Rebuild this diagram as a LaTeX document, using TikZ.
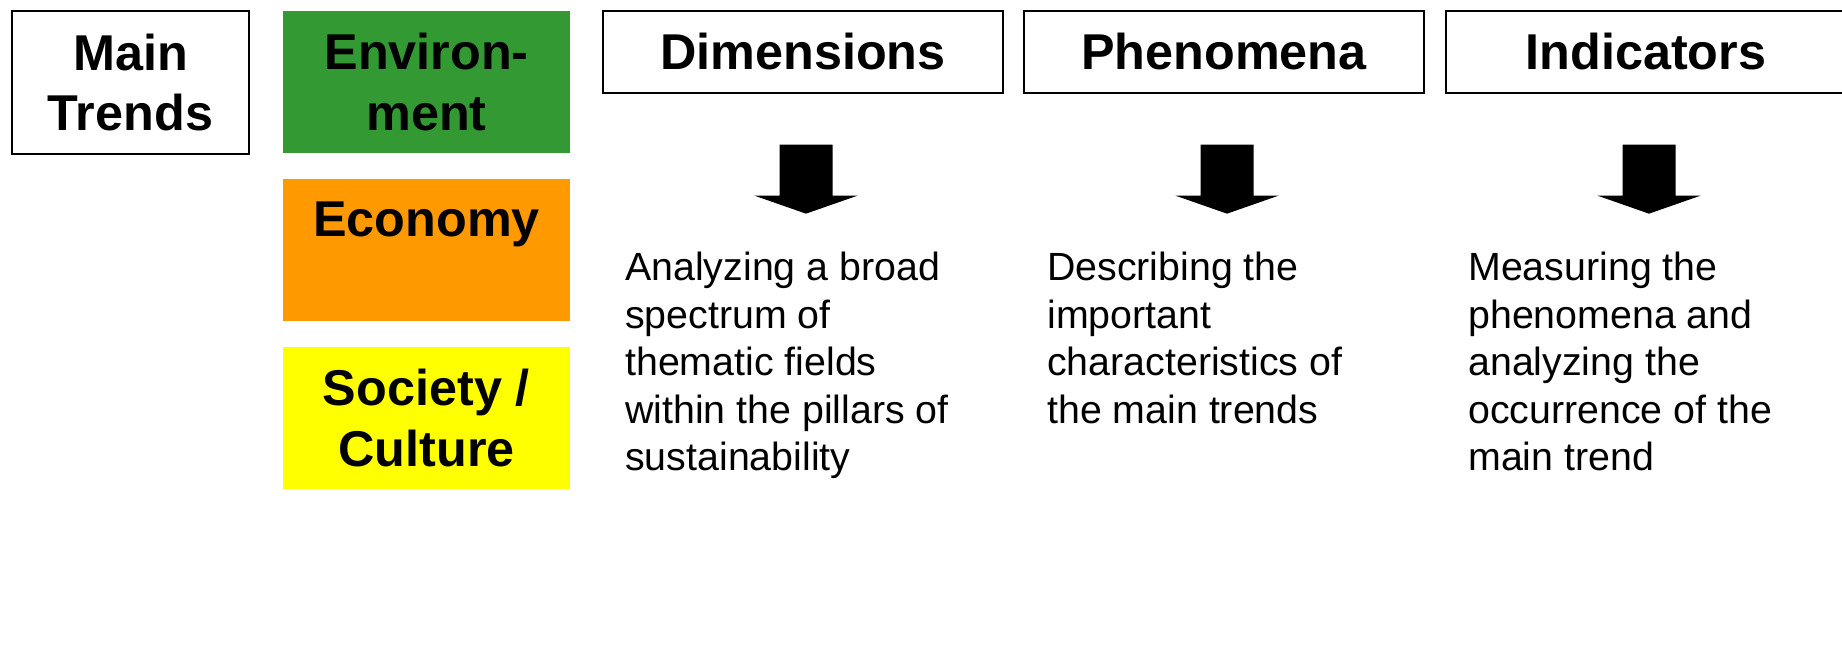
\documentclass[tikz,border=0pt]{standalone}
\usepackage{fontspec}
\setmainfont{Liberation Sans}
\definecolor{envgreen}{RGB}{51,153,51}
\definecolor{ecoorange}{RGB}{255,153,0}
\definecolor{socyellow}{RGB}{255,255,0}

\begin{document}
\begin{tikzpicture}[x=0.75pt,y=-0.75pt,
                    font=\fontsize{37.75}{45.4}\selectfont\bfseries]
  \tikzstyle{pillar}=[rectangle,minimum width=215.25pt,minimum height=106.5pt,inner sep=0pt,align=center]
  \tikzstyle{head}=[rectangle,draw=black,line width=1pt,fill=white,minimum width=300pt,minimum height=61.5pt,inner sep=0pt,align=center]
  \tikzstyle{desc}=[anchor=north west,inner sep=0pt,align=left,font=\fontsize{29.5}{35.6}\selectfont]

  \useasboundingbox (0,0) rectangle (1842,650);

  \node[head,minimum width=177.75pt,minimum height=107.25pt] (main) at (130.5,82.5) {Main\\Trends};

  \node[pillar,fill=envgreen]   (env) at (426.5,82)  {Environ-\\ment};
  \node[pillar,fill=ecoorange]  (eco) at (426.5,249.5) {Economy\\\mbox{}};
  \node[pillar,fill=socyellow]  (soc) at (426.5,418)  {Society /\\Culture};

  \node[head] (dim)  at (803,52)  {Dimensions};
  \node[head] (phen) at (1224,52) {Phenomena};
  \node[head] (ind)  at (1646,52) {Indicators};

  \foreach \h in {dim,phen,ind}
    \fill (\h.south) ++(-23.5,51) -- ++(53,0) -- ++(0,51) -- ++(25,0)
          -- ++(-51.5,18) -- ++(-51.5,-18) -- ++(25,0) -- cycle;

  \node[desc] (dimtext)  at (625,252)  {Analyzing a broad\\spectrum of\\thematic fields\\within the pillars of\\sustainability};
  \node[desc] (phentext) at (1047,252) {Describing the\\important\\characteristics of\\the main trends};
  \node[desc] (indtext)  at (1468,252) {Measuring the\\phenomena and\\analyzing the\\occurrence of the\\main trend};

\end{tikzpicture}
\end{document}
